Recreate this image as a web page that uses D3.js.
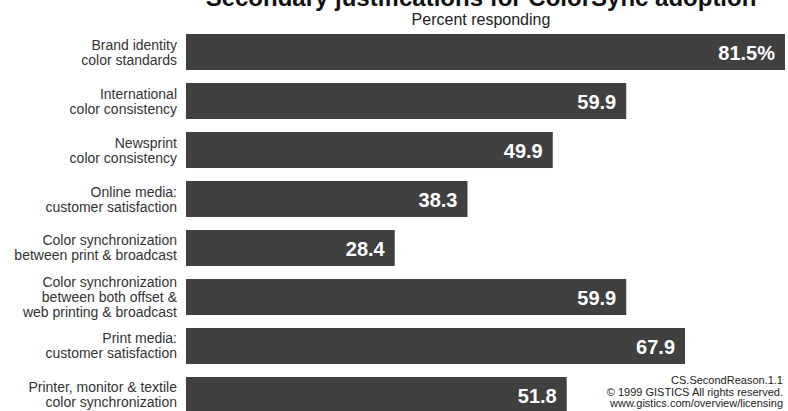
<!DOCTYPE html>
<html>
<head>
<meta charset="utf-8">
<script src="https://cdn.jsdelivr.net/npm/d3@7"></script>
<style>
  html, body { margin: 0; padding: 0; background: #fff; }
  svg { display: block; }
</style>
</head>
<body>
<svg id="chart" width="788" height="411"></svg>
<script>
// Survey responses: secondary reasons for adopting ColorSync
const categories = [
  "Brand identity\ncolor standards",
  "International\ncolor consistency",
  "Newsprint\ncolor consistency",
  "Online media:\ncustomer satisfaction",
  "Color synchronization\nbetween print & broadcast",
  "Color synchronization\nbetween both offset &\nweb printing & broadcast",
  "Print media:\ncustomer satisfaction",
  "Printer, monitor & textile\ncolor synchronization"
];
const values = [81.5, 59.9, 49.9, 38.3, 28.4, 59.9, 67.9, 51.8];
const valueLabels = ["81.5%", "59.9", "49.9", "38.3", "28.4", "59.9", "67.9", "51.8"];

const titleText = "Secondary justifications for ColorSync adoption";
const subtitleText = "Percent responding";
const footerLines = [
  "CS.SecondReason.1.1",
  "\u00A9 1999 GISTICS All rights reserved.",
  "www.gistics.com/overview/licensing"
];

const FONT = "'Liberation Sans', Arial, sans-serif";
const svg = d3.select("#chart");

const x = d3.scaleLinear().domain([0, 81.5]).range([186, 785]);
const y = d3.scaleBand()
  .domain(categories)
  .range([34, 413])
  .paddingInner(0.265)
  .paddingOuter(0);

// Title (runs off the top edge) and subtitle
svg.append("text")
  .attr("x", 481).attr("y", 6)
  .attr("text-anchor", "middle")
  .attr("font-family", FONT)
  .attr("font-weight", "bold")
  .attr("font-size", 24)
  .attr("fill", "#111")
  .text(titleText);

svg.append("text")
  .attr("x", 481).attr("y", 25)
  .attr("text-anchor", "middle")
  .attr("font-family", FONT)
  .attr("font-size", 16)
  .attr("fill", "#222")
  .text(subtitleText);

// Bars
const rows = svg.append("g").selectAll("g")
  .data(categories.map((c, i) => ({ cat: c, v: values[i], lab: valueLabels[i] })))
  .join("g");

rows.append("rect")
  .attr("x", x(0))
  .attr("y", d => y(d.cat))
  .attr("width", d => x(d.v) - x(0))
  .attr("height", y.bandwidth())
  .attr("fill", "#404040");

// Value labels inside bar ends
rows.append("text")
  .attr("x", d => x(d.v) - 10)
  .attr("y", d => y(d.cat) + y.bandwidth() / 2 + 8)
  .attr("text-anchor", "end")
  .attr("font-family", FONT)
  .attr("font-weight", "bold")
  .attr("font-size", 20)
  .attr("fill", "#fff")
  .text(d => d.lab);

// Category labels, right-aligned, vertically centred on each bar
const lineH = 15;
rows.append("text")
  .attr("text-anchor", "end")
  .attr("font-family", FONT)
  .attr("font-size", 14)
  .attr("fill", "#333")
  .each(function (d) {
    const lines = d.cat.split("\n");
    const cy = y(d.cat) + y.bandwidth() / 2;
    d3.select(this).selectAll("tspan")
      .data(lines)
      .join("tspan")
      .attr("x", 177)
      .attr("y", (l, i) => cy + 5 + (i - (lines.length - 1) / 2) * lineH)
      .text(l => l);
  });

// Source / copyright footer
svg.append("text")
  .attr("text-anchor", "end")
  .attr("font-family", FONT)
  .attr("font-size", 11)
  .attr("fill", "#222")
  .selectAll("tspan")
  .data(footerLines)
  .join("tspan")
  .attr("x", 783)
  .attr("y", (l, i) => 384 + i * 11.7)
  .text(l => l);
</script>
</body>
</html>
